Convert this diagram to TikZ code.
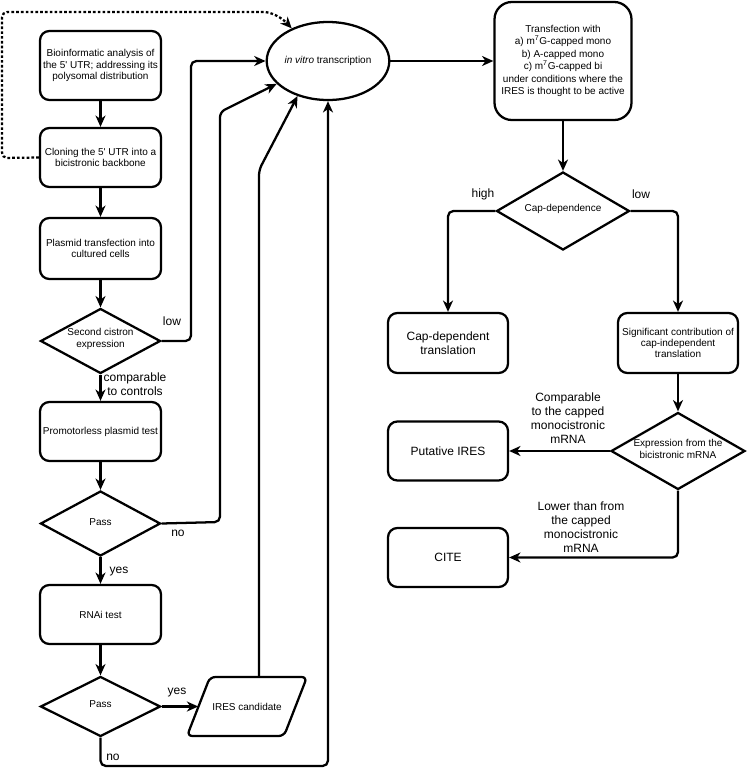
\documentclass[tikz,border=0pt]{standalone}
\usepackage{fontspec}
\setmainfont{Liberation Sans}
\usetikzlibrary{arrows.meta,shapes.geometric}
\begin{document}
\begin{tikzpicture}[x=0.75pt,y=-0.75pt,
  lw/.style={line width=1.7pt},
  sf/.style={font=\fontsize{7.5}{8.4}\selectfont},
  bf/.style={font=\fontsize{9}{10.5}\selectfont},
  box/.style={draw,lw,rounded corners=7pt,align=center,inner sep=1pt},
  dia/.style={draw,lw,diamond,inner sep=0pt},
  tip/.style={-{Stealth[length=8.5pt,width=7.5pt,inset=2.6pt]}},
  arr/.style={lw,tip,rounded corners=4pt},
  lbl/.style={bf,align=center,inner sep=0pt},
  dlbl/.style={sf,align=center,inner sep=0pt}
]
\useasboundingbox (0,0) rectangle (747,768);

% left column
\node[box,sf,minimum width=121*0.75pt,minimum height=69*0.75pt] (b1) at (100.5,65.5) {Bioinformatic analysis of\\the 5\textquotesingle{} UTR; addressing its\\polysomal distribution};
\node[box,sf,minimum width=121*0.75pt,minimum height=59*0.75pt] (b2) at (100.5,157.5) {Cloning the 5\textquotesingle{} UTR into a\\bicistronic backbone};
\node[box,sf,minimum width=121*0.75pt,minimum height=61*0.75pt] (b3) at (100.5,248.5) {Plasmid transfection into\\cultured cells};
\node[dia,minimum width=120*0.75pt,minimum height=65*0.75pt] (d1) at (100.5,341) {};
\node[dlbl] (d1t) at (100.5,339) {Second cistron\\expression};
\node[box,sf,minimum width=121*0.75pt,minimum height=59*0.75pt] (b4) at (100.5,431.5) {Promotorless plasmid test};
\node[dia,minimum width=120*0.75pt,minimum height=65*0.75pt] (d2) at (100.5,523.5) {};
\node[dlbl] (d2t) at (100.5,522) {Pass};
\node[box,sf,minimum width=121*0.75pt,minimum height=59*0.75pt] (b5) at (100.5,614.5) {RNAi test};
\node[dia,minimum width=120*0.75pt,minimum height=60*0.75pt] (d3) at (100.5,706.5) {};
\node[dlbl] (d3t) at (100.5,704.5) {Pass};

% IRES candidate parallelogram
\draw[lw,rounded corners=4pt] (258,677) -- (307,677) -- (284,736) -- (187,736) -- (210,677) -- cycle;
\node[sf,minimum width=97*0.75pt,minimum height=59*0.75pt,inner sep=0pt] (cand) at (247,706.5) {IRES candidate};
\coordinate (candtop) at (259,677);

% ellipse
\node[draw,lw,ellipse,minimum width=120*0.75pt,minimum height=78*0.75pt,inner sep=0pt,sf] (ell) at (328,61) {\textit{in vitro} transcription};

% right part
\node[box,rounded corners=13pt,align=center,font=\fontsize{7.5}{9.3}\selectfont,minimum width=137*0.75pt,minimum height=118*0.75pt] (t) at (563,61) {Transfection with\\a) m\textsuperscript{7}G-capped mono\\b) A-capped mono\\c) m\textsuperscript{7}G-capped bi\\under conditions where the\\IRES is thought to be active};
\node[dia,minimum width=133*0.75pt,minimum height=78*0.75pt] (cd) at (563,211) {};
\node[dlbl] (cdt) at (563,209) {Cap-dependence};
\node[box,bf,minimum width=120*0.75pt,minimum height=60*0.75pt] (capdep) at (448,343) {Cap-dependent\\translation};
\node[box,sf,minimum width=120*0.75pt,minimum height=60*0.75pt] (sig) at (678,343) {Significant contribution of\\cap-independent\\translation};
\node[dia,minimum width=134*0.75pt,minimum height=77*0.75pt] (ex) at (678,451) {};
\node[dlbl] (ext) at (678,449) {Expression from the\\bicistronic mRNA};
\node[box,bf,minimum width=120*0.75pt,minimum height=59*0.75pt] (put) at (448,451) {Putative IRES};
\node[box,bf,minimum width=120*0.75pt,minimum height=59*0.75pt] (cite) at (448,557.5) {CITE};

% connectors left column
\draw[arr] (b1) -- (b2);
\draw[arr] (b2) -- (b3);
\draw[arr] (b3) -- (d1);
\draw[arr] (d1) -- (b4);
\draw[arr] (b4) -- (d2);
\draw[arr] (d2) -- (b5);
\draw[arr] (b5) -- (d3);
\draw[arr] (d3.east) -- (cand.west);

% to ellipse
\draw[arr] (d1.east) -- (191,341) -- (191,61) -- (ell.west);
\draw[arr] (d2.east) -- (220,522) -- (220,112) -- (ell.204);
\draw[arr] (candtop) -- (259,170) -- (ell.229);
\draw[arr] (d3.south) |- (328,766) -- (ell.south);
\draw[lw,tip,rounded corners=4pt,dash pattern=on 2pt off 1.6pt] (b2.west) -- (2,158) -- (2,12) -- (258,12) .. controls (272,12) and (282,18) .. (ell.138);

% right connectors
\draw[arr] (ell.east) -- (t.west);
\draw[arr] (t.south) -- (cd.north);
\draw[arr] (cd.west) -| (capdep.north);
\draw[arr] (cd.east) -| (sig.north);
\draw[arr] (sig.south) -- (ex.north);
\draw[arr] (ex.west) -- (ex.west -| put.east);
\draw[arr] (ex.south) |- (cite.east);

% labels
\node[lbl] (l1) at (172,321) {low};
\node[lbl] (l2) at (135,384) {comparable\\to controls};
\node[lbl] (l3) at (178,533) {no};
\node[lbl] (l4) at (119,572) {yes};
\node[lbl] (l5) at (177,693) {yes};
\node[lbl] (l6) at (113,757) {no};
\node[lbl] (l7) at (483,194) {high};
\node[lbl] (l8) at (641,194) {low};
\node[lbl] (l9) at (568,418) {Comparable\\to the capped\\monocistronic\\mRNA};
\node[lbl] (l10) at (581,527) {Lower than from\\the capped\\monocistronic\\mRNA};
\end{tikzpicture}
\end{document}
